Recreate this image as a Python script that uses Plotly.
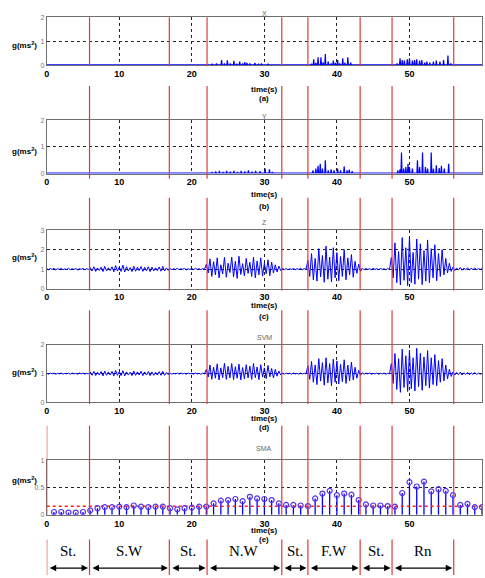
import plotly.graph_objects as go

# ---------------- data ----------------
T_MAX = 60
DT = 0.25
X_TICKS = [0, 10, 20, 30, 40, 50]
SEGMENT_EDGES = [0, 5.9, 16.9, 22.1, 32.4, 36.0, 43.2, 47.6, 56.1]
SEGMENT_LABELS = ["St.", "S.W", "St.", "N.W", "St.", "F.W", "St.", "Rn"]
PANEL_TITLES = ["X", "Y", "Z", "SVM", "SMA"]
PANEL_TAGS = ["(a)", "(b)", "(c)", "(d)", "(e)"]
Y_RANGES = [[0, 2], [0, 2], [0, 3], [0, 2], [0, 1]]
Y_TICKS = [[0, 1, 2], [0, 1, 2], [0, 1, 2, 3], [0, 1, 2], [0, 0.5, 1]]

X_BASE = 0.02
X_SPIKE_T = [22.8, 23.4, 24.1, 24.5, 24.9, 25.3, 25.8, 26.2, 26.6, 27.0, 27.3, 27.6, 28.0, 28.7, 29.2, 29.6, 30.1, 30.5, 31.0,
             36.5, 36.8, 37.1, 37.4, 37.8, 38.1, 38.4, 38.8, 39.2, 39.5, 39.8, 40.1, 40.4, 40.8, 41.1, 41.5, 41.9, 42.4,
             48.3, 48.7, 49.0, 49.3, 49.7, 50.0, 50.4, 50.7, 51.0, 51.4, 51.7, 52.1, 52.4, 52.8, 53.3, 53.7, 54.2, 54.7, 55.3, 55.7,
             57.0, 57.6, 58.2]
X_SPIKE_V = [0.06, 0.08, 0.22, 0.08, 0.20, 0.07, 0.18, 0.06, 0.15, 0.07, 0.13, 0.10, 0.08, 0.10, 0.06, 0.08, 0.05, 0.06, 0.04,
             0.06, 0.25, 0.10, 0.33, 0.33, 0.12, 0.47, 0.15, 0.08, 0.19, 0.10, 0.22, 0.08, 0.29, 0.10, 0.33, 0.11, 0.05,
             0.08, 0.29, 0.22, 0.19, 0.25, 0.29, 0.19, 0.22, 0.25, 0.19, 0.22, 0.11, 0.15, 0.11, 0.15, 0.19, 0.15, 0.22, 0.40, 0.08,
             0.04, 0.04, 0.03]

Y_BASE = 0.02
Y_SPIKE_T = [22.8, 23.3, 23.8, 24.3, 24.8, 25.3, 25.8, 26.3, 26.8, 27.3, 27.8, 28.3, 28.8, 29.4, 30.1, 30.7, 31.1,
             36.7, 37.1, 37.4, 37.7, 38.0, 38.4, 38.8, 39.2, 39.6, 40.1, 40.5, 41.0, 41.4, 41.7, 42.1,
             48.4, 48.7, 48.9, 49.2, 49.5, 49.8, 50.0, 50.4, 51.1, 51.4, 51.8, 52.2, 52.5, 53.0, 53.3, 53.7, 54.1, 54.4, 54.8, 55.4]
Y_SPIKE_V = [0.05, 0.08, 0.10, 0.06, 0.10, 0.07, 0.10, 0.06, 0.10, 0.08, 0.12, 0.07, 0.10, 0.09, 0.19, 0.16, 0.06,
             0.12, 0.19, 0.29, 0.37, 0.19, 0.50, 0.12, 0.16, 0.12, 0.19, 0.12, 0.27, 0.12, 0.15, 0.09,
             0.12, 0.16, 0.79, 0.19, 0.25, 0.37, 0.25, 0.19, 0.50, 0.25, 0.79, 0.25, 0.19, 0.79, 0.19, 0.31, 0.21, 0.29, 0.19, 0.37]

Z_VALUES = [
    1.02, 0.97, 1.03, 0.98, 1.04, 0.96, 1.02, 0.99,
    1.03, 0.97, 1.01, 0.98, 1.04, 0.97, 1.02, 0.98,
    1.03, 0.96, 1.02, 0.99, 1.03, 0.97, 1.02, 0.98,
    1.08, 0.90, 1.12, 0.88, 1.06, 0.93, 1.10, 0.87,
    1.14, 0.90, 1.07, 0.92, 1.12, 0.86, 1.18, 0.90,
    1.10, 0.88, 1.20, 0.85, 1.12, 0.90, 1.08, 0.87,
    1.15, 0.89, 1.10, 0.92, 1.13, 0.88, 1.09, 0.91,
    1.12, 0.87, 1.10, 0.90, 1.07, 0.92, 1.11, 0.89,
    1.14, 0.90, 1.06, 0.93,
    1.03, 0.97, 1.02, 0.98, 1.04, 0.97, 1.02, 0.99,
    1.03, 0.96, 1.02, 0.98, 1.03, 0.97, 1.04, 0.98,
    1.02, 0.97, 1.03, 0.98,
    1.25, 0.80, 1.52, 0.62, 1.38, 0.70, 1.58, 0.55,
    1.22, 0.75, 1.60, 0.58, 1.30, 0.82, 1.62, 0.60,
    1.40, 0.52, 1.66, 0.72, 1.28, 0.65, 1.55, 0.78,
    1.35, 0.62, 1.62, 0.55, 1.42, 0.70, 1.58, 0.64,
    1.30, 0.76, 1.48, 0.66, 1.36, 0.80, 1.22, 0.85,
    1.15, 0.92,
    1.04, 0.97, 1.03, 0.96, 1.02, 0.98, 1.03, 0.97,
    1.02, 0.98, 1.04, 0.97, 1.02, 0.99,
    1.45, 0.62, 1.80, 0.45, 1.55, 0.38, 2.05, 0.60,
    1.70, 0.32, 2.18, 0.48, 1.62, 0.35, 2.10, 0.55,
    1.85, 0.40, 1.65, 0.62, 2.00, 0.45, 1.58, 0.70,
    1.75, 0.58, 1.40, 0.78, 1.25,
    0.88, 1.05, 0.97, 1.03, 0.98, 1.02, 0.97, 1.04,
    0.98, 1.02, 0.97, 1.03, 0.98, 1.02, 0.96, 1.03,
    0.98,
    1.60, 0.55, 2.35, 0.30, 1.90, 0.18, 2.62, 0.42,
    2.10, 0.15, 2.65, 0.30, 1.85, 0.22, 2.55, 0.48,
    2.30, 0.20, 1.95, 0.38, 2.50, 0.30, 2.05, 0.55,
    2.25, 0.40, 1.80, 0.62, 2.00, 0.70, 1.55, 0.80,
    1.30, 0.88,
    1.10, 0.92, 1.06, 0.95, 1.08, 0.94, 1.05, 0.96,
    1.07, 0.95, 1.04, 0.97, 1.06, 0.96, 1.03, 0.98,
    1.02,
]

SVM_VALUES = [
    1.01, 0.98, 1.02, 0.99, 1.02, 0.98, 1.01, 0.99,
    1.02, 0.98, 1.01, 0.99, 1.02, 0.98, 1.02, 0.99,
    1.01, 0.98, 1.02, 0.99, 1.02, 0.98, 1.01, 0.99,
    1.06, 0.94, 1.08, 0.93, 1.05, 0.95, 1.07, 0.92,
    1.09, 0.94, 1.06, 0.95, 1.08, 0.92, 1.11, 0.94,
    1.07, 0.93, 1.10, 0.92, 1.06, 0.95, 1.05, 0.93,
    1.09, 0.94, 1.06, 0.95, 1.08, 0.93, 1.06, 0.95,
    1.07, 0.93, 1.06, 0.94, 1.05, 0.95, 1.07, 0.94,
    1.08, 0.94, 1.04, 0.96,
    1.02, 0.98, 1.01, 0.99, 1.02, 0.98, 1.02, 0.99,
    1.01, 0.98, 1.02, 0.99, 1.01, 0.98, 1.02, 0.99,
    1.01, 0.98, 1.02, 0.99,
    1.15, 0.88, 1.30, 0.80, 1.22, 0.84, 1.34, 0.78,
    1.20, 0.86, 1.36, 0.80, 1.25, 0.85, 1.35, 0.79,
    1.24, 0.84, 1.33, 0.78, 1.21, 0.82, 1.31, 0.85,
    1.26, 0.80, 1.35, 0.86, 1.23, 0.79, 1.31, 0.88,
    1.20, 0.83, 1.28, 0.89, 1.18, 0.85, 1.15, 0.91,
    1.09, 0.95,
    1.02, 0.98, 1.02, 0.99, 1.01, 0.98, 1.02, 0.99,
    1.01, 0.98, 1.02, 0.99, 1.01, 0.99,
    1.28, 0.80, 1.42, 0.70, 1.30, 0.62, 1.52, 0.74,
    1.38, 0.60, 1.55, 0.68, 1.35, 0.58, 1.50, 0.70,
    1.44, 0.64, 1.32, 0.72, 1.48, 0.66, 1.30, 0.75,
    1.40, 0.78, 1.22, 0.84, 1.12,
    0.94, 1.03, 0.98, 1.02, 0.99, 1.02, 0.98, 1.01,
    0.99, 1.02, 0.98, 1.01, 0.99, 1.02, 0.98, 1.01,
    0.99,
    1.35, 0.66, 1.70, 0.45, 1.52, 0.35, 1.85, 0.52,
    1.62, 0.38, 1.82, 0.48, 1.55, 0.40, 1.88, 0.55,
    1.70, 0.42, 1.58, 0.58, 1.80, 0.50, 1.55, 0.62,
    1.66, 0.58, 1.45, 0.70, 1.52, 0.75, 1.30, 0.82,
    1.15, 0.90,
    1.06, 0.95, 1.04, 0.96, 1.05, 0.95, 1.03, 0.97,
    1.04, 0.96, 1.03, 0.97, 1.04, 0.97, 1.02, 0.98,
    1.01,
]

SMA_T = list(range(1, 61))
SMA_VALUES = [0.05, 0.05, 0.04, 0.04, 0.05, 0.08, 0.12, 0.14, 0.14, 0.15,
              0.14, 0.17, 0.15, 0.14, 0.15, 0.15, 0.12, 0.10, 0.12, 0.13,
              0.15, 0.15, 0.21, 0.26, 0.27, 0.29, 0.25, 0.33, 0.30, 0.29,
              0.27, 0.21, 0.18, 0.18, 0.17, 0.16, 0.30, 0.39, 0.44, 0.36,
              0.39, 0.37, 0.27, 0.19, 0.17, 0.17, 0.16, 0.15, 0.40, 0.60,
              0.52, 0.61, 0.43, 0.47, 0.44, 0.36, 0.18, 0.20, 0.14, 0.14]
SMA_THRESHOLD = 0.155

# ---------------- layout helpers ----------------
W, H = 485, 578
PLOT_LEFT, PLOT_RIGHT = 44, 482
PANELS_PX = [(13.3, 62), (117.7, 171.7), (229, 288), (345, 403.3), (462, 517)]
TITLE_PX = [5, 109.5, 221, 338, 454]
TIME_PX = [81, 193, 305, 425, 539]
TAG_PX = [90.5, 204.5, 316.5, 434, 548]
RED_SEGS_PX = [(13.3, 63), (83, 177), (196, 290), (310, 405), (427, 517), (542, 578)]


def py(p):
    return 1 - p / H


def spiky(base, ts, vs, w=0.07):
    xs, ys = [0.0], [base]
    for t, v in sorted(zip(ts, vs)):
        xs += [t - w, t, t + w]
        ys += [base, v, base]
    xs.append(T_MAX)
    ys.append(base)
    return xs, ys


BLUE = "#0000ff"
TICKFONT = dict(family="Liberation Sans Narrow, Liberation Sans, Arial", size=9, color="black", weight="bold")

fig = go.Figure()

xs, ys = spiky(X_BASE, X_SPIKE_T, X_SPIKE_V)
fig.add_trace(go.Scatter(x=xs, y=ys, mode="lines", line=dict(color=BLUE, width=1.2), xaxis="x", yaxis="y"))
xs, ys = spiky(Y_BASE, Y_SPIKE_T, Y_SPIKE_V)
fig.add_trace(go.Scatter(x=xs, y=ys, mode="lines", line=dict(color=BLUE, width=1.2), xaxis="x2", yaxis="y2"))
fig.add_trace(go.Scatter(x=[i * DT for i in range(len(Z_VALUES))], y=Z_VALUES, mode="lines",
                         line=dict(color=BLUE, width=1), xaxis="x3", yaxis="y3"))
fig.add_trace(go.Scatter(x=[i * DT for i in range(len(SVM_VALUES))], y=SVM_VALUES, mode="lines",
                         line=dict(color=BLUE, width=1), xaxis="x4", yaxis="y4"))

# SMA stems
sx, sy = [], []
for t, v in zip(SMA_T, SMA_VALUES):
    sx += [t, t, None]
    sy += [0, v, None]
fig.add_trace(go.Scatter(x=sx, y=sy, mode="lines", line=dict(color=BLUE, width=1.3), xaxis="x5", yaxis="y5"))
fig.add_trace(go.Scatter(x=[0, T_MAX], y=[SMA_THRESHOLD, SMA_THRESHOLD], mode="lines",
                         line=dict(color="#ff2020", width=1.6, dash="dot"), xaxis="x5", yaxis="y5"))
fig.add_trace(go.Scatter(x=SMA_T, y=SMA_VALUES, mode="markers",
                         marker=dict(symbol="circle-open", size=5, color="#5533ee", line=dict(width=1.2)),
                         xaxis="x5", yaxis="y5"))

layout = dict(width=W, height=H, margin=dict(l=0, r=0, t=0, b=0), showlegend=False,
              paper_bgcolor="white", plot_bgcolor="white")
annotations = []
shapes = []
for k in range(5):
    sfx = "" if k == 0 else str(k + 1)
    top, bot = PANELS_PX[k]
    layout["xaxis" + sfx] = dict(
        domain=[PLOT_LEFT / W, PLOT_RIGHT / W], range=[0, T_MAX], anchor="y" + sfx,
        tickvals=X_TICKS, ticktext=[str(v) for v in X_TICKS], tickfont=TICKFONT,
        showgrid=True, gridcolor="#222", griddash="dot", gridwidth=0.8,
        showline=True, mirror=True, linecolor="#707070", linewidth=1, zeroline=False,
        ticks="", fixedrange=True)
    layout["yaxis" + sfx] = dict(
        domain=[py(bot), py(top)], range=Y_RANGES[k], anchor="x" + sfx,
        tickvals=Y_TICKS[k], ticktext=[("%g" % v) for v in Y_TICKS[k]],
        tickfont=dict(family="Liberation Sans", size=7, color="#777"),
        showgrid=True, gridcolor="#222", griddash="dot", gridwidth=0.8,
        showline=True, mirror=True, linecolor="#707070", linewidth=1, zeroline=False,
        ticks="", fixedrange=True)
    mid = (PLOT_LEFT + PLOT_RIGHT) / 2 / W
    annotations.append(dict(text=PANEL_TITLES[k], xref="paper", yref="paper", x=mid, y=py(TITLE_PX[k]),
                            showarrow=False, borderpad=0,
                            font=dict(family="Liberation Sans", size=7, color="#666")))
    annotations.append(dict(text="time(s)", xref="paper", yref="paper", x=mid, y=py(TIME_PX[k]),
                            showarrow=False, borderpad=0, font=dict(TICKFONT, size=8)))
    annotations.append(dict(text=PANEL_TAGS[k], xref="paper", yref="paper", x=mid, y=py(TAG_PX[k]),
                            showarrow=False, borderpad=0, font=dict(TICKFONT, size=8)))
    annotations.append(dict(text="g(ms<sup>2</sup>)", xref="paper", yref="paper", x=35 / W, xanchor="right",
                            y=py((top + bot) / 2 - 2), showarrow=False, borderpad=0, font=dict(TICKFONT, size=8)))

# red segment boundaries
for si, (a, b) in enumerate(RED_SEGS_PX):
    edges = SEGMENT_EDGES[1:] if si < 4 else SEGMENT_EDGES
    for e in edges:
        shapes.append(dict(type="line", xref="x", yref="paper", x0=e, x1=e, y0=py(b), y1=py(a),
                           line=dict(color="#e03a3a", width=1.2)))

# activity arrows and labels
for i, lab in enumerate(SEGMENT_LABELS):
    a, b = SEGMENT_EDGES[i], SEGMENT_EDGES[i + 1]
    annotations.append(dict(text="", xref="x5", yref="paper", x=b - 0.2, y=py(571), axref="x5", ayref="pixel",
                            ax=a + 0.2, ay=0, showarrow=True, arrowhead=2, startarrowhead=2,
                            arrowside="end+start", arrowsize=1, arrowwidth=1.3, arrowcolor="black",
                            standoff=0, startstandoff=0))
    annotations.append(dict(text=lab, xref="x5", yref="paper", x=(a + b) / 2, y=py(562.5), showarrow=False,
                            borderpad=0,
                            font=dict(family="Liberation Serif, Times New Roman, serif", size=15, color="black")))

layout["annotations"] = annotations
layout["shapes"] = shapes
fig.update_layout(**layout)
fig.write_html("out.html", config={"displayModeBar": False},
               post_script="document.body.style.margin='0';document.body.style.overflow='hidden';")
